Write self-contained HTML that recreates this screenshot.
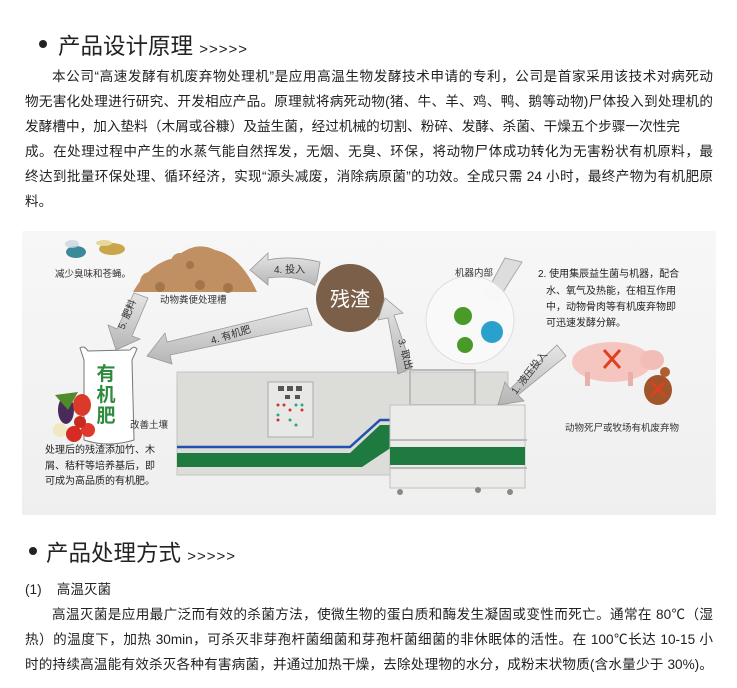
<!DOCTYPE html>
<html><head><meta charset="utf-8"><style>
*{margin:0;padding:0;box-sizing:border-box}
body{width:737px;height:688px;background:#fff;position:relative;overflow:hidden;font-family:"Liberation Sans","Noto Sans CJK SC",sans-serif;color:#222}
.h{position:absolute;font-size:22.5px;color:#222;white-space:nowrap}
.h small{font-size:15px;letter-spacing:1px}
.dot{position:absolute;width:8px;height:8px;border-radius:50%;background:#222}
.p{position:absolute;left:25px;width:688px;font-size:13.6px;line-height:25px;color:#222}
.l{display:block;white-space:nowrap;text-align:justify;text-align-last:justify;height:25px}
.last{text-align-last:left}
</style></head><body>
<div class="dot" style="left:39px;top:40px"></div>
<div class="h" style="left:58px;top:29px">产品设计原理 <small>&gt;&gt;&gt;&gt;&gt;</small></div>
<div class="p" style="top:64px">
<span class="l" style="padding-left:27px">本公司“高速发酵有机废弃物处理机”是应用高温生物发酵技术申请的专利，公司是首家采用该技术对病死动</span>
<span class="l">物无害化处理进行研究、开发相应产品。原理就将病死动物(猪、牛、羊、鸡、鸭、鹅等动物)尸体投入到处理机的</span>
<span class="l" style="width:655px">发酵槽中，加入垫料（木屑或谷糠）及益生菌，经过机械的切割、粉碎、发酵、杀菌、干燥五个步骤一次性完</span>
<span class="l">成。在处理过程中产生的水蒸气能自然挥发，无烟、无臭、环保，将动物尸体成功转化为无害粉状有机原料，最</span>
<span class="l">终达到批量环保处理、循环经济，实现“源头减废，消除病原菌”的功效。全成只需 24 小时，最终产物为有机肥原</span>
<span class="l last">料。</span>
</div>

<svg style="position:absolute;left:0;top:0" width="737" height="688" font-family="Liberation Sans,Noto Sans CJK SC,sans-serif">
<defs><linearGradient id="bg" x1="0" y1="0" x2="0" y2="1"><stop offset="0" stop-color="#f7f7f7"/><stop offset="1" stop-color="#efefef"/></linearGradient>
<linearGradient id="ar" x1="0" y1="0" x2="0" y2="1"><stop offset="0" stop-color="#e6e6e6"/><stop offset="1" stop-color="#b5b5b5"/></linearGradient></defs>
<rect x="22" y="231" width="694" height="284" fill="url(#bg)"/>
<ellipse cx="76" cy="252" rx="10" ry="6" fill="#3a8a99"/><ellipse cx="72" cy="244" rx="7" ry="4" fill="#c8d4dc" opacity=".8"/>
<ellipse cx="112" cy="249" rx="13" ry="6" fill="#c9a64a"/><ellipse cx="104" cy="243" rx="8" ry="3" fill="#e8d79a"/>
<text x="55" y="277" font-size="9.5" fill="#333">减少臭味和苍蝇。</text>
<g fill="#c09063">
<path d="M133 292 Q150 262 175 258 Q195 240 215 250 Q240 255 257 292 Z"/>
<circle cx="150" cy="282" r="10"/><circle cx="170" cy="277" r="11"/><circle cx="192" cy="272" r="12"/><circle cx="215" cy="275" r="11"/><circle cx="238" cy="282" r="10"/>
<circle cx="180" cy="262" r="9"/><circle cx="205" cy="256" r="9"/><circle cx="225" cy="264" r="9"/>
</g>
<g fill="#a5754a"><circle cx="160" cy="287" r="5"/><circle cx="200" cy="285" r="5"/><circle cx="228" cy="288" r="5"/><circle cx="190" cy="265" r="4"/></g>
<text x="160" y="303" font-size="9.5" fill="#333">动物粪便处理槽</text>
<path d="M320 262 Q290 255 268 260 L268 253 L250 270 L268 285 L268 278 Q295 274 316 286 Z" fill="url(#ar)" stroke="#999" stroke-width=".8"/>
<text x="274" y="273" font-size="10" fill="#333">4. 投入</text>
<circle cx="350" cy="298" r="37" fill="#f5f5f5"/>
<circle cx="350" cy="298" r="34" fill="#7b5f48"/>
<text x="350" y="306" font-size="20" fill="#fff" text-anchor="middle">残渣</text>
<path d="M307 308 L312 325 L170 355 L172 364 L147 356 L165 333 L167 342 Z" fill="url(#ar)" stroke="#999" stroke-width=".8"/>
<text x="212" y="344" font-size="10" fill="#333" transform="rotate(-17 212 344)">4. 有机肥</text>
<path d="M134 293 L148 298 L132 336 L140 339 L116 350 L108 325 L117 329 Z" fill="url(#ar)" stroke="#999" stroke-width=".8"/>
<text x="124" y="330" font-size="10" fill="#333" transform="rotate(-67 124 330)">5. 肥料</text>
<path d="M80 348 Q84 345 88 351 L130 350 Q134 345 137 349 L132 360 L134 440 Q108 448 84 440 L84 360 Z" fill="#fff" stroke="#777" stroke-width="1"/>
<text x="106" y="380" font-size="19" font-weight="bold" fill="#2e8a3c" text-anchor="middle">有</text>
<text x="106" y="401" font-size="19" font-weight="bold" fill="#2e8a3c" text-anchor="middle">机</text>
<text x="106" y="422" font-size="19" font-weight="bold" fill="#2e8a3c" text-anchor="middle">肥</text>
<ellipse cx="66" cy="410" rx="8" ry="14" fill="#4a2a5a"/><ellipse cx="82" cy="405" rx="9" ry="11" fill="#d93a2a"/>
<circle cx="60" cy="430" r="7" fill="#f0e8c0"/><circle cx="74" cy="434" r="8" fill="#d62b22"/><circle cx="88" cy="430" r="7" fill="#e0382a"/><circle cx="80" cy="422" r="6" fill="#c82a20"/>
<path d="M55 395 L68 410 L78 392 Z" fill="#4f8b2a"/>
<text x="130" y="428" font-size="9.5" fill="#333">改善土壤</text>
<text x="45" y="453" font-size="10" fill="#222">处理后的残渣添加竹、木</text>
<text x="45" y="469" font-size="10" fill="#222">屑、秸秆等培养基后，即</text>
<text x="45" y="484" font-size="10" fill="#222">可成为高品质的有机肥。</text>
<rect x="177" y="372" width="331" height="103" fill="#dcdcd8" stroke="#c4c4c0"/>
<path d="M177 453 L350 453 L380 425 L508 425 L508 447 L392 447 L362 467 L177 467 Z" fill="#1e7a3e"/>
<path d="M177 447 L350 447 L380 420 L508 420" fill="none" stroke="#2050b0" stroke-width="2.5"/>
<rect x="268" y="382" width="45" height="55" fill="#e8e8e6" stroke="#aaa"/>
<g fill="#555"><rect x="278" y="386" width="6" height="5"/><rect x="287" y="386" width="6" height="5"/><rect x="296" y="386" width="6" height="5"/><rect x="285" y="395" width="5" height="4"/><rect x="295" y="395" width="5" height="4"/></g>
<g fill="#c33"><circle cx="278" cy="405" r="1.5"/><circle cx="284" cy="405" r="1.5"/><circle cx="290" cy="410" r="1.5"/><circle cx="302" cy="410" r="1.5"/><circle cx="278" cy="420" r="1.5"/></g>
<g fill="#2a8"><circle cx="296" cy="405" r="1.5"/><circle cx="302" cy="405" r="1.5"/><circle cx="278" cy="415" r="1.5"/><circle cx="290" cy="420" r="1.5"/><circle cx="296" cy="425" r="1.5"/></g>
<rect x="410" y="370" width="65" height="35" fill="none" stroke="#bbb" stroke-width="2"/>
<rect x="390" y="405" width="135" height="83" fill="#ececea" stroke="#c0c0bc"/>
<rect x="390" y="447" width="135" height="18" fill="#1e7a3e"/>
<line x1="390" y1="440" x2="527" y2="440" stroke="#bbb" stroke-width="2"/><line x1="390" y1="468" x2="527" y2="468" stroke="#bbb" stroke-width="2"/>
<circle cx="400" cy="492" r="3" fill="#888"/><circle cx="478" cy="490" r="3" fill="#888"/><circle cx="510" cy="492" r="3" fill="#888"/>
<path d="M505 258 L522 262 L498 300 L485 295 Z" fill="#ddd" stroke="#aaa"/>
<circle cx="470" cy="320" r="44" fill="#fafafa" opacity=".95" stroke="#ddd"/>
<text x="455" y="276" font-size="9.5" fill="#333">机器内部</text>
<circle cx="463" cy="316" r="9" fill="#4a9a2a"/><circle cx="465" cy="345" r="8" fill="#4a9a2a"/><circle cx="492" cy="332" r="11" fill="#2aa0cc"/>
<path d="M412 368 L398 374 L388 318 L378 320 L385 298 L403 313 L394 315 Z" fill="url(#ar)" stroke="#999" stroke-width=".8"/>
<text x="398" y="340" font-size="10" fill="#333" transform="rotate(75 398 340)">3. 取出</text>
<path d="M557 345 L566 356 L518 395 L524 401 L498 405 L505 382 L510 389 Z" fill="url(#ar)" stroke="#999" stroke-width=".8"/>
<text x="516" y="395" font-size="10" fill="#333" transform="rotate(-52 516 395)">1. 液压投入</text>
<text x="538" y="277" font-size="10" fill="#222">2. 使用集辰益生菌与机器，配合</text>
<text x="546" y="294" font-size="10" fill="#222">水、氧气及热能，在相互作用</text>
<text x="546" y="310" font-size="10" fill="#222">中，动物骨肉等有机废弃物即</text>
<text x="546" y="326" font-size="10" fill="#222">可迅速发酵分解。</text>
<ellipse cx="612" cy="362" rx="40" ry="20" fill="#f5c6c0"/><ellipse cx="652" cy="360" rx="12" ry="10" fill="#f2bdb6"/>
<rect x="585" y="372" width="5" height="14" fill="#e8b0a8"/><rect x="628" y="372" width="5" height="14" fill="#e8b0a8"/>
<path d="M604 350 L620 368 M620 350 L604 368" stroke="#e04020" stroke-width="3"/>
<ellipse cx="658" cy="390" rx="14" ry="15" fill="#a0552a"/><circle cx="665" cy="372" r="5" fill="#b06030"/>
<path d="M651 382 L665 396 M665 382 L651 396" stroke="#e04020" stroke-width="2.5"/>
<text x="565" y="431" font-size="9.5" fill="#333">动物死尸或牧场有机废弃物</text>
</svg>

<div class="dot" style="left:29px;top:547px"></div>
<div class="h" style="left:46px;top:536px">产品处理方式 <small>&gt;&gt;&gt;&gt;&gt;</small></div>
<div class="p" style="top:577px">
<span class="l last">(1)&nbsp;&nbsp;&nbsp; 高温灭菌</span>
<span class="l" style="padding-left:27px">高温灭菌是应用最广泛而有效的杀菌方法，使微生物的蛋白质和酶发生凝固或变性而死亡。通常在 80℃（湿</span>
<span class="l">热）的温度下，加热 30min，可杀灭非芽孢杆菌细菌和芽孢杆菌细菌的非休眠体的活性。在 100℃长达 10-15 小</span>
<span class="l">时的持续高温能有效杀灭各种有害病菌，并通过加热干燥，去除处理物的水分，成粉末状物质(含水量少于 30%)。</span>
</div>
</body></html>
